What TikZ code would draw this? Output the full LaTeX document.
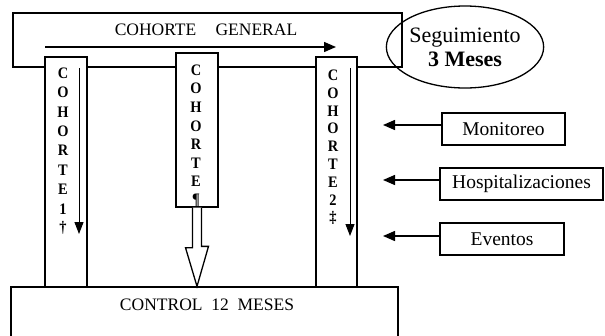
\documentclass[tikz,border=0pt]{standalone}
\usepackage{fontspec}
\setmainfont{Liberation Serif}
\usetikzlibrary{shapes.geometric,arrows.meta,calc}
\newcommand{\narrow}[1]{\scalebox{0.9}[1]{#1}}
\tikzset{
  ln/.style={line width=1.3pt},
  boxnode/.style={draw, ln, rectangle, inner sep=0pt},
  colbox/.style={draw, ln, rectangle, fill=white, inner sep=0pt, minimum width=42pt},
  colletter/.style={inner sep=0pt, font=\fontsize{16}{16}\selectfont\bfseries},
  sidebox/.style={draw, ln, rectangle, inner sep=0pt, minimum height=32pt, font=\fontsize{19.5}{19.5}\selectfont},
  tri/.style={-{Triangle[length=12pt,width=10pt]}, line width=1.4pt},
}
\begin{document}
\begin{tikzpicture}[x=1pt,y=-1pt]
\useasboundingbox (0,0) rectangle (605,335);
\clip (0,0) rectangle (605,335);
% top box
\node[boxnode, minimum width=389pt, minimum height=54pt] (gen) at (207.5,40) {};
\node[inner sep=0pt, font=\fontsize{17.5}{17.5}\selectfont] (gent) at (206,30) {COHORTE\hspace{1.1em}GENERAL};
\coordinate (ga) at (45,47);
\coordinate (gb) at (336,47);
\draw[tri] (ga) -- (gb);
% ellipse
\node[draw, ln, ellipse, minimum width=124pt, minimum height=82pt, inner sep=0pt, align=center,
      font=\fontsize{22}{24}\selectfont] (seg) at (465,47) {Seguimiento\\\textbf{3 Meses}};
% control box
\node[boxnode, minimum width=387pt, minimum height=70pt] (ctrl) at (204.5,322) {};
\node[inner sep=0pt, font=\fontsize{17.5}{17.5}\selectfont] (ctrlt) at (207,305) {CONTROL\hspace{0.5em}12\hspace{0.5em}MESES};
% columns
\node[colbox, minimum height=230pt] (c1) at (66,172) {};
\node[colbox, minimum height=154pt] (c2) at (197,130) {};
\node[colbox, minimum width=41pt, minimum height=230pt] (c3) at (336.5,172) {};
\foreach \ch [count=\i] in {C,O,H,O,R,T,E,1,\dag}
  \node[colletter] (ca\i) at (63,{73+19.4*(\i-1)}) {\narrow{\ch}};
\foreach \ch [count=\i] in {C,O,H,O,R,T,E,\P}
  \node[colletter] (cb\i) at (196,{70+18.6*(\i-1)}) {\narrow{\ch}};
\foreach \ch [count=\i] in {C,O,H,O,R,T,E,2,\ddag}
  \node[colletter] (cc\i) at (333,{75+17.9*(\i-1)}) {\narrow{\ch}};
% column arrows
\coordinate (a1s) at (79,68);
\coordinate (a1e) at (79,234);
\draw[-{Triangle[length=12pt,width=9pt]}, line width=1pt] (a1s) -- (a1e);
\coordinate (a3s) at (350,68);
\coordinate (a3e) at (350,236);
\draw[-{Triangle[length=12pt,width=9pt]}, line width=1pt] (a3s) -- (a3e);
% hollow arrow
\draw[ln, fill=white] ([xshift=-4.5pt]c2.south) -- ++(0,40) -- ++(-7,0) -- (c2.south |- ctrl.north)
   -- ++(11.5,-40) -- ++(-7,0) -- ([xshift=4.5pt]c2.south);
% side boxes
\node[sidebox, minimum width=123pt] (mon) at (503.5,129) {Monitoreo};
\node[sidebox, minimum width=163pt] (hos) at (521.5,184) {Hospitalizaciones};
\node[sidebox, minimum width=124pt] (eve) at (502,239) {Eventos};
\coordinate (tm) at (383,125);
\coordinate (th) at (383,180);
\coordinate (te) at (383,236);
\draw[tri] (mon.west |- tm) -- (tm);
\draw[tri] (hos.west |- th) -- (th);
\draw[tri] (eve.west |- te) -- (te);
\end{tikzpicture}
\end{document}
